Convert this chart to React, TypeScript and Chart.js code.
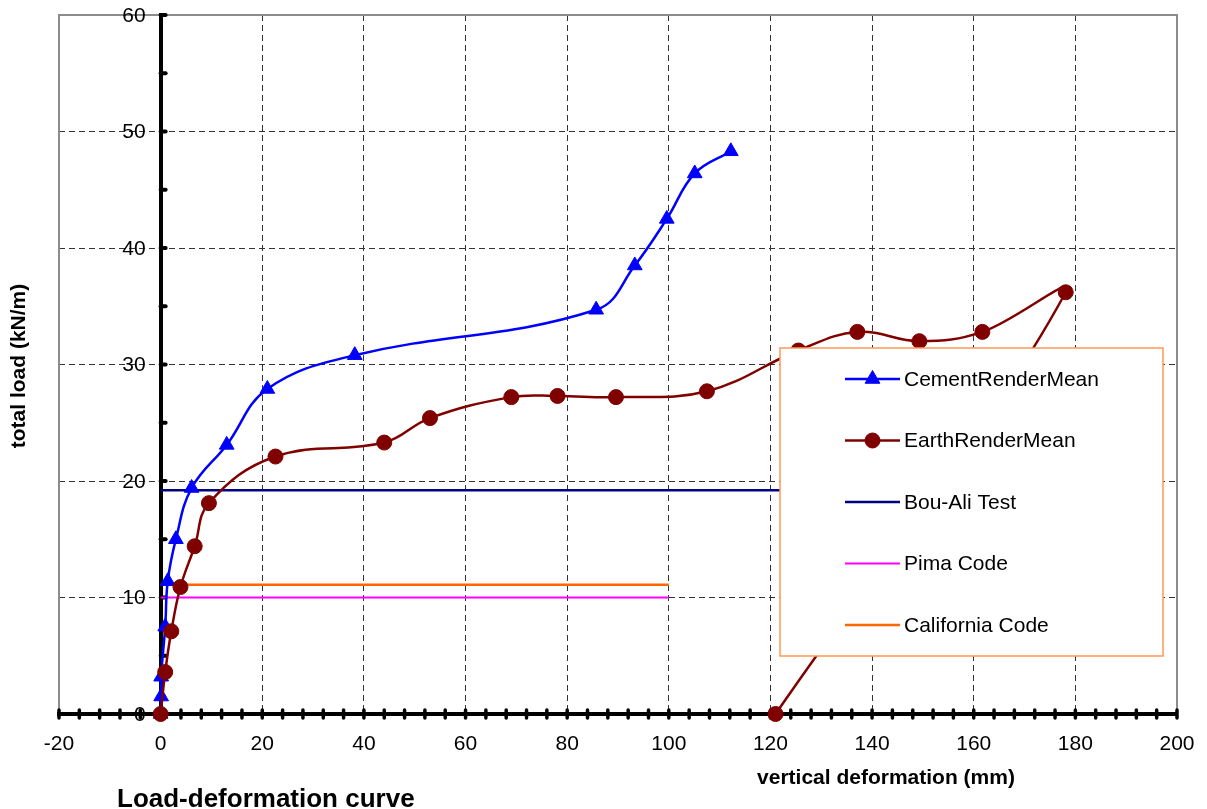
import React, { useEffect, useRef } from 'react';
import { Chart, registerables } from 'chart.js';

Chart.register(...registerables);

const FONT = "'Liberation Sans', Arial, Helvetica, sans-serif";

// Axis ranges and tick steps
const X_MIN = -20;
const X_MAX = 200;
const X_STEP = 20;
const X_MINOR = 4;
const Y_MIN = 0;
const Y_MAX = 60;
const Y_STEP = 10;
const Y_MINOR = 5;

const CHART_TITLE = 'Load-deformation curve';
const X_TITLE = 'vertical deformation (mm)';
const Y_TITLE = 'total load (kN/m)';

const seriesNames = ['CementRenderMean', 'EarthRenderMean', 'Bou-Ali Test', 'Pima Code', 'California Code'];

// CementRenderMean
const cementX = [0, 0.1, 0.1, 0.9, 1.4, 3.0, 6.1, 13.0, 21.0, 38.2, 85.7, 93.3, 99.6, 105.1, 112.2];
const cementY = [0, 1.5, 3.2, 7.5, 11.4, 15.0, 19.4, 23.1, 27.9, 30.8, 34.7, 38.5, 42.5, 46.4, 48.3];

// EarthRenderMean
const earthX = [0, 0.9, 2.1, 3.9, 6.7, 9.5, 22.6, 44.0, 53.0, 69.0, 78.1, 89.6, 107.5, 125.5, 137.1, 149.3, 161.7, 178.1, 121.0];
const earthY = [0, 3.6, 7.1, 10.9, 14.4, 18.1, 22.1, 23.3, 25.4, 27.2, 27.3, 27.2, 27.7, 31.2, 32.8, 32.0, 32.8, 36.2, 0];

// Bou-Ali Test
const bouAliX = [0, 125];
const bouAliY = [19.2, 19.2];

// Pima Code
const pimaX = [0, 100];
const pimaY = [10, 10];

// California Code
const californiaX = [0, 100];
const californiaY = [11.1, 11.1];

const toPoints = (xs: number[], ys: number[]) => xs.map((x, i) => ({ x, y: ys[i] }));

function drawMarker(ctx: CanvasRenderingContext2D, style: string, x: number, y: number, r: number, color: string) {
  ctx.save();
  ctx.fillStyle = color;
  ctx.strokeStyle = color;
  ctx.lineWidth = 1;
  ctx.beginPath();
  if (style === 'triangle') {
    let a = 0;
    ctx.moveTo(x + Math.sin(a) * r, y - Math.cos(a) * r);
    a += (2 * Math.PI) / 3;
    ctx.lineTo(x + Math.sin(a) * r, y - Math.cos(a) * r);
    a += (2 * Math.PI) / 3;
    ctx.lineTo(x + Math.sin(a) * r, y - Math.cos(a) * r);
    ctx.closePath();
  } else {
    ctx.arc(x, y, r, 0, Math.PI * 2);
  }
  ctx.fill();
  ctx.stroke();
  ctx.restore();
}

const zeroPadding = (s: any) => {
  s.paddingTop = 0;
  s.paddingBottom = 0;
  s.paddingLeft = 0;
  s.paddingRight = 0;
};

const decorPlugin = {
  id: 'decor',
  beforeDatasetsDraw(chart: any) {
    const { ctx, chartArea: a, scales } = chart;
    const xs = scales.x;
    const ys = scales.y;
    ctx.save();
    // gray plot-area frame
    ctx.strokeStyle = '#8c8c8c';
    ctx.lineWidth = 2;
    ctx.beginPath();
    ctx.moveTo(a.left, a.bottom);
    ctx.lineTo(a.left, a.top);
    ctx.lineTo(a.right, a.top);
    ctx.lineTo(a.right, a.bottom);
    ctx.stroke();
    // tick stubs
    ctx.strokeStyle = '#000';
    ctx.lineCap = 'round';
    const x0 = xs.getPixelForValue(0);
    ctx.lineWidth = 4;
    for (let v = Y_MIN; v <= Y_MAX; v += Y_MINOR) {
      const py = ys.getPixelForValue(v);
      ctx.beginPath();
      ctx.moveTo(x0, py);
      ctx.lineTo(x0 + 5, py);
      ctx.stroke();
    }
    const y0 = ys.getPixelForValue(0);
    ctx.lineWidth = 3.5;
    for (let v = X_MIN; v <= X_MAX; v += X_MINOR) {
      const px = xs.getPixelForValue(v);
      ctx.beginPath();
      ctx.moveTo(px, y0 - 4);
      ctx.lineTo(px, y0 + 4);
      ctx.stroke();
    }
    // y tick labels, from the y scale's own ticks, placed left of the axis at x = 0
    ctx.fillStyle = '#000';
    ctx.font = `21px ${FONT}`;
    ctx.textAlign = 'right';
    ctx.textBaseline = 'middle';
    ys.ticks.forEach((t: any) => {
      const py = ys.getPixelForValue(t.value);
      ctx.fillText(String(t.label), x0 - 15, py + 1);
    });
    ctx.restore();
  },
  afterDraw(chart: any) {
    const { ctx } = chart;
    ctx.save();
    // legend box
    const L = 780, T = 348, R = 1163, B = 656;
    ctx.fillStyle = '#ffffff';
    ctx.fillRect(L, T, R - L, B - T);
    ctx.strokeStyle = '#ff9955';
    ctx.lineWidth = 1.5;
    ctx.strokeRect(L, T, R - L, B - T);
    const rowY0 = 379;
    const rowStep = 61.5;
    chart.data.datasets.forEach((ds: any, i: number) => {
      const yy = rowY0 + i * rowStep;
      ctx.strokeStyle = ds.borderColor;
      ctx.lineWidth = ds.borderWidth;
      ctx.beginPath();
      ctx.moveTo(845, yy);
      ctx.lineTo(900, yy);
      ctx.stroke();
      if (ds.pointRadius > 0) {
        drawMarker(ctx, ds.pointStyle, 872.5, yy, ds.pointRadius, ds.backgroundColor);
      }
      ctx.fillStyle = '#000';
      ctx.font = `21px ${FONT}`;
      ctx.textAlign = 'left';
      ctx.textBaseline = 'middle';
      ctx.fillText(ds.label, 904, yy + 1);
    });
    // titles
    ctx.fillStyle = '#000';
    ctx.font = `bold 26px ${FONT}`;
    ctx.textAlign = 'left';
    ctx.textBaseline = 'alphabetic';
    ctx.fillText(CHART_TITLE, 117, 807);
    ctx.font = `bold 21px ${FONT}`;
    ctx.textAlign = 'center';
    ctx.textBaseline = 'middle';
    ctx.fillText(X_TITLE, 886, 778);
    ctx.translate(19, 366);
    ctx.rotate(-Math.PI / 2);
    ctx.fillText(Y_TITLE, 0, 0);
    ctx.restore();
  },
};

export default function App() {
  const ref = useRef<HTMLCanvasElement | null>(null);

  useEffect(() => {
    if (!ref.current) return;
    const tickFont = { family: FONT, size: 21 };
    const chart = new Chart(ref.current, {
      type: 'scatter',
      data: {
        datasets: [
          {
            label: seriesNames[0],
            data: toPoints(cementX, cementY),
            borderColor: '#0000ff',
            backgroundColor: '#0000ff',
            borderWidth: 2.5,
            pointStyle: 'triangle',
            pointRadius: 8.5,
            pointBorderWidth: 1,
            tension: 0.4,
            showLine: true,
            order: 1,
            clip: false,
          },
          {
            label: seriesNames[1],
            data: toPoints(earthX, earthY),
            borderColor: '#800000',
            backgroundColor: '#800000',
            borderWidth: 2.5,
            pointStyle: 'circle',
            pointRadius: 7.5,
            pointBorderWidth: 1,
            tension: 0.4,
            showLine: true,
            order: 0,
            clip: false,
          },
          {
            label: seriesNames[2],
            data: toPoints(bouAliX, bouAliY),
            borderColor: '#000080',
            backgroundColor: '#000080',
            borderWidth: 2.5,
            pointRadius: 0,
            tension: 0,
            showLine: true,
            order: 2,
            clip: false,
          },
          {
            label: seriesNames[3],
            data: toPoints(pimaX, pimaY),
            borderColor: '#ff00ff',
            backgroundColor: '#ff00ff',
            borderWidth: 2,
            pointRadius: 0,
            tension: 0,
            showLine: true,
            order: 3,
            clip: false,
          },
          {
            label: seriesNames[4],
            data: toPoints(californiaX, californiaY),
            borderColor: '#ff6600',
            backgroundColor: '#ff6600',
            borderWidth: 2.5,
            pointRadius: 0,
            tension: 0,
            showLine: true,
            order: 4,
            clip: false,
          },
        ],
      },
      options: {
        responsive: false,
        animation: false,
        devicePixelRatio: 1,
        events: [],
        layout: { padding: { left: 59, right: 30, top: 15, bottom: 0 } },
        plugins: {
          legend: { display: false },
          tooltip: { enabled: false },
          title: { display: false },
        },
        scales: {
          x: {
            type: 'linear',
            position: 'bottom',
            min: X_MIN,
            max: X_MAX,
            ticks: { stepSize: X_STEP, font: tickFont, color: '#000', padding: 18, maxRotation: 0, autoSkip: false },
            grid: { color: '#333', lineWidth: 1, drawTicks: false },
            border: { display: true, color: '#000', width: 4, dash: [6, 4] },
            afterFit: (s: any) => {
              s.height = 95;
              zeroPadding(s);
            },
          },
          y: {
            type: 'linear',
            position: { x: 0 },
            min: Y_MIN,
            max: Y_MAX,
            ticks: { stepSize: Y_STEP, font: tickFont, color: 'rgba(0,0,0,0)', padding: 14 },
            grid: { color: '#333', lineWidth: 1, drawTicks: false },
            border: { display: true, color: '#000', width: 4, dash: [6, 4] },
            afterFit: (s: any) => {
              zeroPadding(s);
            },
          },
        },
      } as any,
      plugins: [decorPlugin],
    });
    return () => chart.destroy();
  }, []);

  return (
    <div style={{ position: 'absolute', left: 0, top: 0, width: 1207, height: 809, background: '#fff' }}>
      <canvas ref={ref} width={1207} height={809} style={{ display: 'block' }} />
    </div>
  );
}
